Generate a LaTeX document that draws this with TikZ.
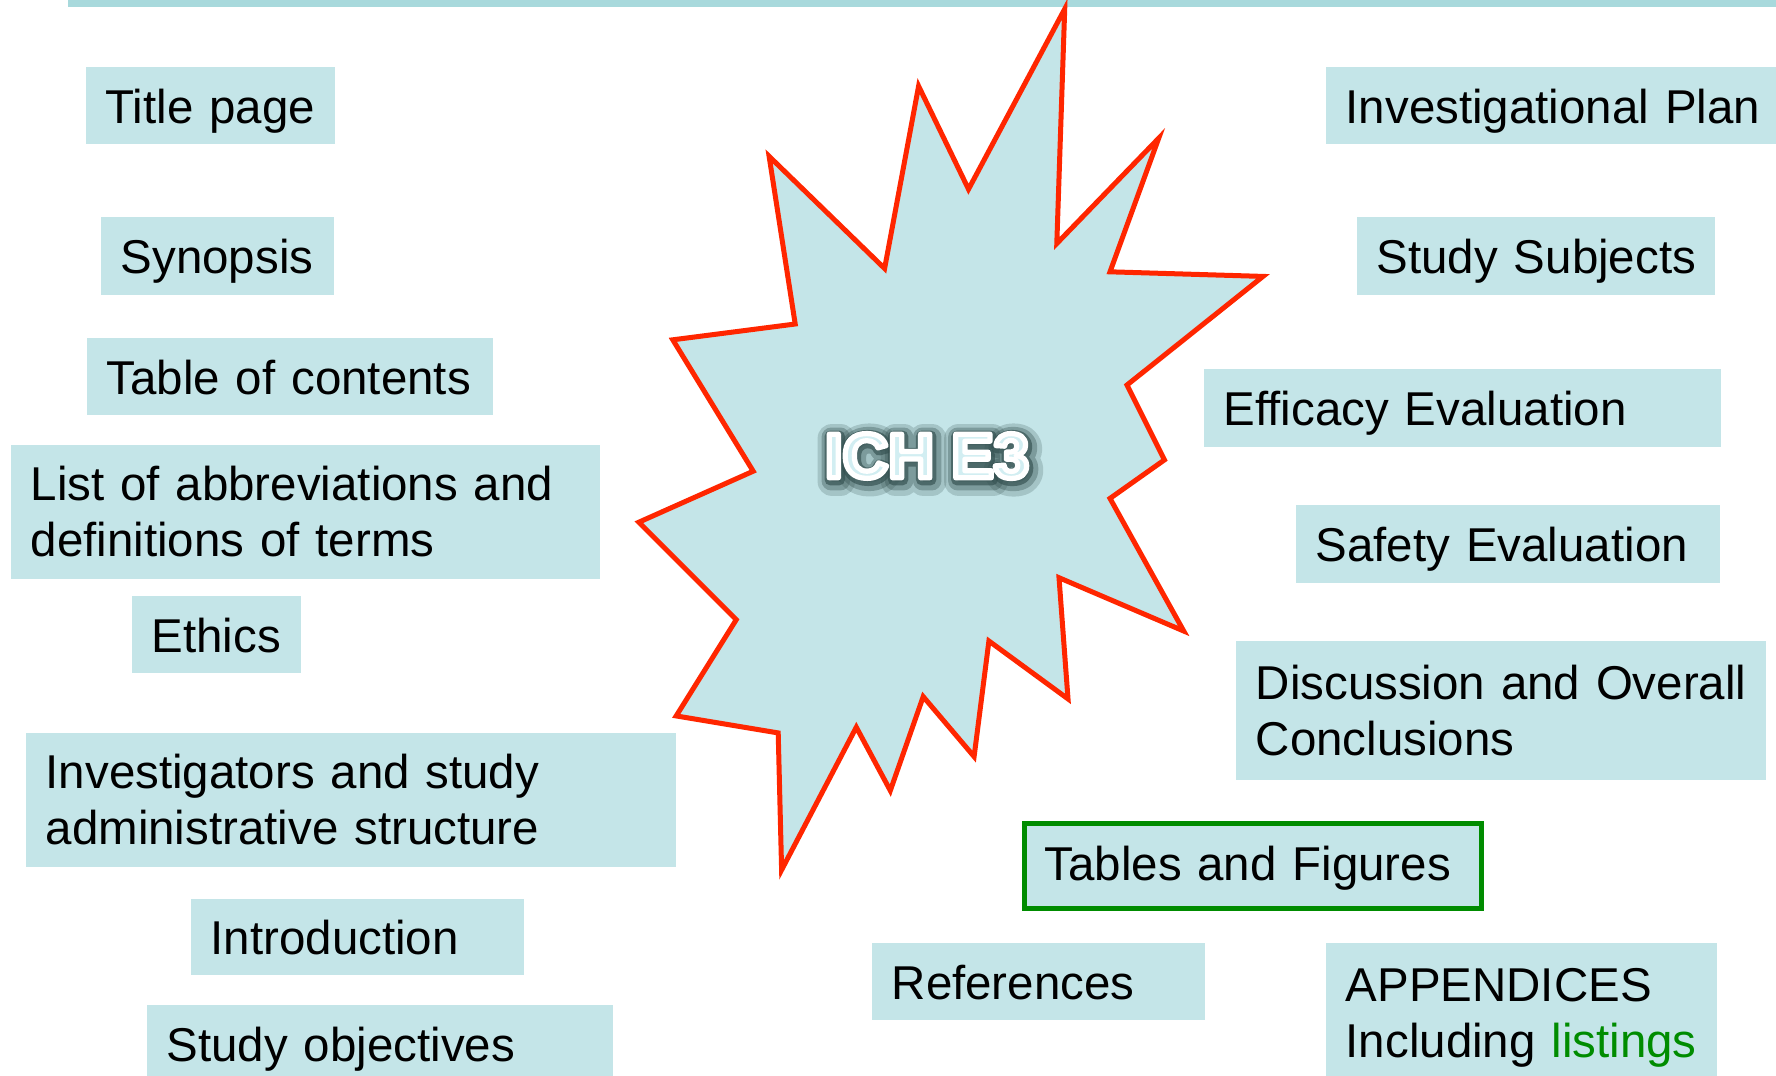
\documentclass[tikz,border=0pt]{standalone}
\usepackage{fontspec}
\setmainfont{Liberation Sans}
\definecolor{boxc}{HTML}{C4E5E8}
\definecolor{barc}{HTML}{A8D9DC}
\definecolor{starred}{HTML}{FF2600}
\definecolor{grn}{HTML}{008C00}
\definecolor{shadowc}{HTML}{34504F}
\definecolor{letterc}{HTML}{D2EEF2}
\newcommand{\boxfont}{\fontsize{13.5}{15.8}\selectfont}
\newcommand{\titlefnt}{\fontsize{18}{18}\selectfont\bfseries}
% #1 stroke width (bp), #2 stroke rgb, #3 fill colour, #4 text
\newcommand{\strokedtext}[4]{{\color{#3}\special{pdf:literal 2 Tr #1 w #2 RG 1 j}#4\special{pdf:literal 0 Tr}}}
\begin{document}
\begin{tikzpicture}[x=0.01cm,y=-0.01cm,
  box/.style={fill=boxc, draw=none, anchor=north west, inner xsep=0.2cm, inner ysep=0pt,
     align=left, font=\boxfont, text=black},
  one/.style={box, text height=1.22em, text depth=0.2em},
  starshape/.style={fill=boxc, draw=starred, line width=0.05cm, line join=miter, miter limit=20},
  glow/.style={font=\titlefnt, inner sep=0pt}]
\useasboundingbox (0,0) rectangle (1776,1075);
\fill[barc] (68,0) rectangle (1776,7);

% star
\draw[starshape] (1064.7,9) -- (1056.8,243.5) -- (1158.7,138.2) -- (1110,271.8) -- (1263,276.4)
 -- (1127,385) -- (1164.4,459.9) -- (1110,498.4) -- (1183.7,631) -- (1059,577.7)
 -- (1068,698.9) -- (988.9,641) -- (974.1,756.6) -- (923.2,696.6) -- (890.3,790.6)
 -- (856.3,727.2) -- (781.6,869.9) -- (778.2,732.9) -- (676.2,715.9) -- (736.3,619.6)
 -- (638.8,522.2) -- (753.2,471.2) -- (672.8,339.8) -- (795.2,324) -- (769.1,156.3)
 -- (884.6,268.5) -- (918.6,86.1) -- (968.5,189.2) -- cycle;

% ICH E3 title with glow
\node[glow, opacity=0.22] (glowA) at (929.5,460) {\strokedtext{8}{0.2 0.31 0.31}{shadowc}{ICH E3}};
\node[glow, opacity=0.35] (glowB) at (929,459) {\strokedtext{5.5}{0.2 0.31 0.31}{shadowc}{ICH E3}};
\node[glow, opacity=0.65] (glowC) at (928,458) {\strokedtext{3.2}{0.2 0.31 0.31}{shadowc}{ICH E3}};
\node[glow] (title) at (927,456) {\strokedtext{1.5}{1 1 1}{letterc}{ICH E3}};

% left boxes
\node[one, text width=2.09cm, minimum height=0.77cm] (tp) at (85,66) {\mbox{Title page}};
\node[one, text width=1.93cm, minimum height=0.78cm] (syn) at (100,216) {\mbox{Synopsis}};
\node[one, text width=3.66cm, minimum height=0.77cm] (toc) at (86,337) {\mbox{Table of contents}};
\node[box, text width=5.49cm, minimum height=1.34cm] (abbr) at (10,444) {\mbox{List of abbreviations and}\\\mbox{definitions of terms}};
\node[one, text width=1.29cm, minimum height=0.77cm] (eth) at (131,595) {\mbox{Ethics}};
\node[box, text width=6.10cm, minimum height=1.34cm] (inv) at (25,732) {\mbox{Investigators and study}\\\mbox{administrative structure}};
\node[one, text width=2.93cm, minimum height=0.76cm] (intro) at (190,898) {\mbox{Introduction}};
\node[one, text width=4.26cm, minimum height=0.77cm] (obj) at (146,1004) {\mbox{Study objectives}};

% right boxes
\node[one, text width=4.20cm, minimum height=0.77cm] (plan) at (1325,66) {\mbox{Investigational Plan}};
\node[one, text width=3.18cm, minimum height=0.78cm] (subj) at (1356,216) {\mbox{Study Subjects}};
\node[one, text width=4.77cm, minimum height=0.78cm] (eff) at (1203,368) {\mbox{Efficacy Evaluation}};
\node[one, text width=3.84cm, minimum height=0.78cm] (saf) at (1295,504) {\mbox{Safety Evaluation}};
\node[box, text width=4.90cm, minimum height=1.39cm] (disc) at (1235,640) {\mbox{Discussion and Overall}\\\mbox{Conclusions}};
\node[box, text height=1.05em, text depth=0.2em, text width=4.17cm, minimum height=0.85cm, draw=grn, line width=0.05cm] (tabfig) at (1022,821) {\mbox{Tables and Figures}};
\node[one, text width=2.93cm, minimum height=0.77cm] (refs) at (871,942) {\mbox{References}};
\node[box, text width=3.51cm, minimum height=1.50cm] (app) at (1325,942) {\mbox{APPENDICES}\\\mbox{Including \textcolor{grn}{listings}}};
\end{tikzpicture}
\end{document}
